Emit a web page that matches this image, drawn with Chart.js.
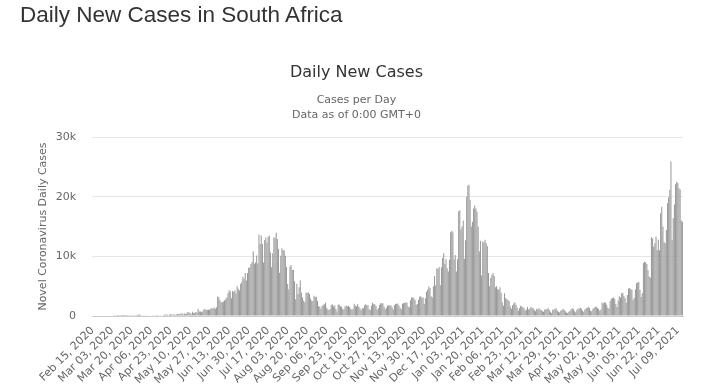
<!DOCTYPE html>
<html>
<head>
<meta charset="utf-8">
<title>Daily New Cases in South Africa</title>
<script src="https://cdn.jsdelivr.net/npm/chart.js@4.4.1/dist/chart.umd.min.js"></script>
<style>
    body { margin: 0; background: #fff; }
    #pageTitle {
        position: absolute; left: 20px; top: 2px; z-index: 2;
        font-family: "Liberation Sans", Arial, sans-serif;
        font-size: 22.5px; line-height: 26px; color: #333; font-weight: normal;
        margin: 0;
    }
    #chartBox { position: absolute; left: 0; top: 0; width: 713px; height: 391px; }
</style>
</head>
<body>
<h1 id="pageTitle">Daily New Cases in South Africa</h1>
<div id="chartBox"><canvas id="casesChart"></canvas></div>
<script>
// Casos diarios, un arreglo por mes (primer dia: 15 feb 2020)
const cases2020Feb = [0,0,0,0,0,0,0,0,0,0,0,0,0,0,0];
const cases2020Mar = [0,0,0,0,1,0,1,1,4,0,6,4,7,14,13,11,23,31,34,52,38,34,128,152,155,218,243,17,93,48,73];
const cases2020Apr = [27,82,43,79,63,69,40,101,47,89,150,27,82,143,99,87,178,251,196,251,142,205,318,266,174,311,180,262,354,297];
const cases2020May = [385,365,447,247,437,333,424,663,595,499,297,698,511,545,665,605,1160,760,767,614,803,1134,1118,988,1032,1073,1011,1237,1327,1231,1416];
const cases2020Jun = [1196,1455,3267,3157,2642,2312,2315,2430,2594,2810,3147,3800,4302,4100,2992,4200,4078,4302,3809,4966,4551,4288,5371,5688,6579,6215,7210,5949,7200,8100];
const cases2020Jul = [8124,8728,9063,10853,8773,8971,10134,8810,13674,12058,13497,12058,8971,12757,13172,12267,13285,13449,10642,8170,10496,13150,13104,13944,12904,11233,7232,10107,11362,11046,10959];
const cases2020Aug = [10107,8195,5377,4456,8307,8559,7712,7760,5834,2810,5385,3692,4804,5944,3916,3102,2541,2258,3916,3880,3935,3707,2920,2541,2505,3398,3171,3215,2541,1677,1567];
const cases2020Sep = [1216,1675,1895,1976,2223,1385,1075,1017,1142,1906,1923,1584,1822,1207,759,1923,1869,1587,1586,1187,1101,1580,1765,1634,1689,1494,1201,1050,1235,2043];
const cases2020Oct = [1751,1590,2008,1590,1311,943,1285,1296,1750,1956,1749,1850,1137,1006,1714,2230,2017,1928,1713,1051,1283,1861,2137,2148,2141,1609,1118,1402,1751,1753,1770];
const cases2020Nov = [1806,1449,1089,1796,2003,2033,2082,1740,1365,1151,2038,2192,2159,2294,2202,1584,1480,2621,3046,3161,2968,2693,1890,1997,2707,3220,3305,3076,3082,2026];
const cases2020Dec = [2962,4011,4400,4932,4689,3313,3117,4932,6709,5163,7999,7882,8194,5163,8166,9700,10500,8725,9513,7999,7458,9445,14046,14305,14046,9502,10203,7458,9500,17552,17710];
const cases2021Jan = [14500,15002,16000,9600,12700,20000,21832,21980,19437,15002,15800,18000,18523,18000,17500,15000,10800,12600,6800,12500,12300,12800,12200,11700,7200,5000,6400,6900,7200,6700,4800];
const cases2021Feb = [5000,4500,4400,4800,3900,2300,1700,3800,3000,2800,2700,2500,1600,1200,1800,2100,2300,1900,1400,900,1300,1700,1600,1500,1300,900,1100,1500];
const cases2021Mar = [1100,1200,1500,1400,1300,1000,800,1200,1100,1300,1100,1000,800,700,1100,1100,1200,1300,1000,700,500,1100,1000,1200,1300,900,700,600,900,1000,1200];
const cases2021Apr = [1000,800,600,500,700,900,1100,1300,1200,800,600,1000,1200,1300,1400,1200,900,700,1100,1300,1400,1500,1300,900,800,1200,1400,1500,1600,1300];
const cases2021May = [1200,900,1100,2200,2100,2300,2200,1900,1400,1200,2500,2900,3000,3100,2900,2000,1500,2600,3300,3100,3800,3900,3400,3000,2200,3500,4600,4700,4500,4400,2700];
const cases2021Jun = [3000,4500,5500,5600,5700,4400,3200,3800,8900,9100,9000,8700,7700,6600,6400,13200,13000,11600,12200,13300,11000,12800,11000,17200,18300,15000,12400,12200,14400,18900];
const cases2021Jul = [19900,21100,25900,12800,16400,18700,22100,22500,22300,21400,21200,16000,15800];

// Etiquetas visibles del eje X (una cada 17 dias)
const tickLabels = ["Feb 15, 2020","Mar 03, 2020","Mar 20, 2020","Apr 06, 2020","Apr 23, 2020","May 10, 2020",
    "May 27, 2020","Jun 13, 2020","Jun 30, 2020","Jul 17, 2020","Aug 03, 2020","Aug 20, 2020","Sep 06, 2020",
    "Sep 23, 2020","Oct 10, 2020","Oct 27, 2020","Nov 13, 2020","Nov 30, 2020","Dec 17, 2020","Jan 03, 2021",
    "Jan 20, 2021","Feb 06, 2021","Feb 23, 2021","Mar 12, 2021","Mar 29, 2021","Apr 15, 2021","May 02, 2021",
    "May 19, 2021","Jun 05, 2021","Jun 22, 2021","Jul 09, 2021"];
const tickStep = 17;
const monthNames = ["Jan","Feb","Mar","Apr","May","Jun","Jul","Aug","Sep","Oct","Nov","Dec"];

const dailyCases = [].concat(cases2020Feb, cases2020Mar, cases2020Apr, cases2020May, cases2020Jun,
    cases2020Jul, cases2020Aug, cases2020Sep, cases2020Oct, cases2020Nov, cases2020Dec,
    cases2021Jan, cases2021Feb, cases2021Mar, cases2021Apr, cases2021May, cases2021Jun, cases2021Jul);

// Categorias: una fecha por dia
const categories = [];
const day = new Date(Date.UTC(2020, 1, 15));
for (let i = 0; i < dailyCases.length; i++) {
    const dd = String(day.getUTCDate()).padStart(2, "0");
    categories.push(monthNames[day.getUTCMonth()] + " " + dd + ", " + day.getUTCFullYear());
    day.setUTCDate(day.getUTCDate() + 1);
}

const fontFamily = "'DejaVu Sans', Verdana, sans-serif";
Chart.defaults.font.family = fontFamily;

const ctx = document.getElementById("casesChart").getContext("2d");
const casesChart = new Chart(ctx, {
    type: "bar",
    data: {
        labels: categories,
        datasets: [{
            label: "Daily Cases",
            data: dailyCases,
            backgroundColor: "#999999",
            borderWidth: 0,
            barPercentage: 0.9,
            categoryPercentage: 1.0
        }]
    },
    options: {
        responsive: true,
        maintainAspectRatio: false,
        animation: false,
        layout: { padding: { top: 0, right: 0, bottom: 0, left: 0 } },
        plugins: {
            legend: { display: false },
            tooltip: { enabled: false },
            title: {
                display: true,
                text: "Daily New Cases",
                color: "#333",
                font: { size: 16, weight: "normal" },
                padding: { top: 63.2, bottom: 0 }
            },
            subtitle: {
                display: true,
                text: ["Cases per Day", "Data as of 0:00 GMT+0"],
                color: "#666",
                font: { size: 11, lineHeight: "15px" },
                padding: { top: 10.6, bottom: 14 }
            }
        },
        scales: {
            x: {
                offset: true,
                grid: { display: false, drawTicks: false },
                border: { display: true, color: "#cccccc" },
                ticks: {
                    autoSkip: false,
                    minRotation: 45,
                    maxRotation: 45,
                    color: "#666",
                    font: { size: 11 },
                    padding: 8,
                    callback: function(value, index) {
                        return index % tickStep === 0 ? tickLabels[index / tickStep] : "";
                    }
                },
                afterFit: function(scale) { scale.height = 75; }
            },
            y: {
                min: 0,
                max: 30000,
                grid: { color: "#e6e6e6", drawTicks: false },
                border: { display: false },
                ticks: {
                    stepSize: 10000,
                    color: "#666",
                    font: { size: 11 },
                    padding: 16,
                    callback: function(value) { return value === 0 ? "0" : (value / 1000) + "k"; }
                },
                title: {
                    display: true,
                    text: "Novel Coronavirus Daily Cases",
                    color: "#666",
                    font: { size: 11 },
                    padding: { top: 37, bottom: 0 }
                },
                afterFit: function(scale) { scale.width = 92; }
            },
            yRight: {
                position: "right",
                grid: { display: false, drawTicks: false },
                border: { display: false },
                ticks: { display: false },
                afterFit: function(scale) { scale.width = 30; }
            }
        }
    }
});
</script>
</body>
</html>
